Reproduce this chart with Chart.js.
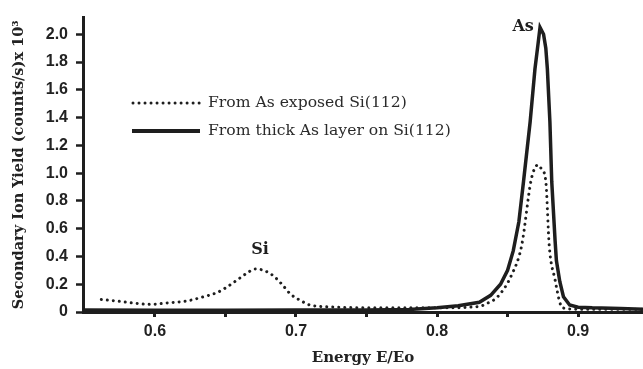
<!DOCTYPE html>
<html>
<head>
<meta charset="utf-8">
<script src="https://cdn.jsdelivr.net/npm/chart.js@4.4.1/dist/chart.umd.min.js"></script>
<style>
  html, body { margin: 0; padding: 0; background: #fff; }
  #wrap { width: 643px; height: 369px; }
</style>
</head>
<body>
<div id="wrap"><canvas id="sims"></canvas></div>
<script>
// Data (Energy E/Eo vs yield x 10^3 counts/s)
const exposedE = [0.562, 0.5756, 0.585, 0.5968, 0.6086, 0.6228, 0.6346, 0.644, 0.6511, 0.6582, 0.6653, 0.6712,
  0.677, 0.684, 0.690, 0.696, 0.703, 0.710, 0.73, 0.75, 0.80, 0.83, 0.835, 0.843, 0.853, 0.860, 0.8665,
  0.869, 0.8717, 0.874, 0.8771, 0.8795, 0.8837, 0.887, 0.889, 0.90, 0.946];
const exposedY = [0.09, 0.076, 0.064, 0.055, 0.065, 0.08, 0.11, 0.14, 0.18, 0.23, 0.28, 0.31,
  0.30, 0.26, 0.20, 0.13, 0.084, 0.05, 0.035, 0.03, 0.03, 0.04, 0.06, 0.11, 0.27, 0.48, 0.94,
  1.03, 1.06, 1.03, 0.94, 0.48, 0.23, 0.07, 0.03, 0.02, 0.02];

const thickE = [0.549, 0.6, 0.65, 0.7, 0.75, 0.78, 0.80, 0.815, 0.83, 0.838, 0.845, 0.850, 0.854, 0.858,
  0.8613, 0.866, 0.8694, 0.8717, 0.873, 0.8755, 0.8771, 0.8782, 0.880, 0.8813, 0.8837, 0.8846, 0.887,
  0.8896, 0.894, 0.90, 0.91, 0.93, 0.946];
const thickY = [0.015, 0.012, 0.012, 0.015, 0.015, 0.018, 0.03, 0.045, 0.07, 0.12, 0.20, 0.30, 0.44, 0.65,
  0.94, 1.37, 1.75, 1.94, 2.05, 2.0, 1.9, 1.75, 1.37, 0.94, 0.51, 0.37, 0.22,
  0.11, 0.05, 0.035, 0.03, 0.025, 0.02];

const xTicks = [0.6, 0.65, 0.7, 0.75, 0.8, 0.85, 0.9];
const xLabels = ['0.6', '', '0.7', '', '0.8', '', '0.9'];
const yTicks = [0, 0.2, 0.4, 0.6, 0.8, 1.0, 1.2, 1.4, 1.6, 1.8, 2.0];
const yLabels = ['0', '0.2', '0.4', '0.6', '0.8', '1.0', '1.2', '1.4', '1.6', '1.8', '2.0'];

const seriesNames = ['From As exposed Si(112)', 'From thick As layer on Si(112)'];
const peakNames = ['Si', 'As'];

const ink = '#1e1e1e';

function toPoints(xs, ys) {
  return xs.map((x, i) => ({ x: x, y: ys[i] }));
}

// legend + peak labels drawn on top
const overlay = {
  id: 'overlay',
  afterDraw(chart) {
    const ctx = chart.ctx;
    const xs = chart.scales.x, ys = chart.scales.y;
    ctx.save();
    ctx.strokeStyle = ink;
    ctx.fillStyle = ink;
    // legend samples
    ctx.lineCap = 'round';
    ctx.lineWidth = 3;
    ctx.setLineDash([0.01, 6]);
    ctx.beginPath(); ctx.moveTo(133, 103); ctx.lineTo(200, 103); ctx.stroke();
    ctx.setLineDash([]);
    ctx.lineCap = 'butt';
    ctx.lineWidth = 4;
    ctx.beginPath(); ctx.moveTo(132, 131); ctx.lineTo(200, 131); ctx.stroke();
    ctx.fillStyle = '#2a2a2a';
    ctx.font = '15.6px "DejaVu Serif"';
    ctx.textBaseline = 'middle';
    ctx.textAlign = 'left';
    ctx.fillText(seriesNames[0], 208, 103);
    ctx.fillText(seriesNames[1], 208, 131);
    // peak labels
    ctx.fillStyle = ink;
    ctx.font = 'bold 16px "DejaVu Serif"';
    ctx.textAlign = 'center';
    ctx.textBaseline = 'alphabetic';
    ctx.fillText(peakNames[0], xs.getPixelForValue(0.6745), ys.getPixelForValue(0.31) - 15);
    ctx.fillText(peakNames[1], xs.getPixelForValue(0.861), ys.getPixelForValue(2.05) + 4);
    ctx.restore();
  }
};

new Chart(document.getElementById('sims'), {
  type: 'line',
  data: {
    datasets: [
      {
        label: seriesNames[0],
        data: toPoints(exposedE, exposedY),
        borderColor: ink,
        borderWidth: 3,
        borderDash: [0.01, 6],
        borderCapStyle: 'round',
        pointRadius: 0,
        cubicInterpolationMode: 'monotone'
      },
      {
        label: seriesNames[1],
        data: toPoints(thickE, thickY),
        borderColor: ink,
        borderWidth: 3.5,
        pointRadius: 0,
        tension: 0
      }
    ]
  },
  options: {
    responsive: true,
    maintainAspectRatio: false,
    animation: false,
    layout: { padding: { top: 15, right: 0, left: 0, bottom: 0 } },
    plugins: { legend: { display: false }, tooltip: { enabled: false } },
    scales: {
      x: {
        type: 'linear',
        min: 0.549,
        max: 0.946,
        afterBuildTicks: (s) => { s.ticks = xTicks.map(v => ({ value: v })); },
        afterFit: (s) => { s.height = 57; },
        grid: { drawOnChartArea: false, tickLength: 5, tickWidth: 3, tickColor: ink },
        border: { color: ink, width: 3 },
        ticks: {
          color: '#222',
          font: { family: '"Liberation Sans", Arial', size: 16, weight: 'bold' },
          padding: 5,
          maxRotation: 0,
          autoSkip: false,
          callback: (v, i) => xLabels[i]
        },
        title: {
          display: true,
          text: 'Energy E/Eo',
          color: '#222',
          font: { family: '"DejaVu Serif"', size: 15, weight: 'bold' },
          padding: { top: 0, bottom: 2 }
        }
      },
      y: {
        min: 0,
        max: 2.12,
        afterBuildTicks: (s) => { s.ticks = yTicks.map(v => ({ value: v })); },
        afterFit: (s) => { s.width = 83; },
        grid: { drawOnChartArea: false, tickLength: 7, tickWidth: 2.5, tickColor: ink },
        border: { color: ink, width: 3 },
        ticks: {
          color: '#222',
          font: { family: '"Liberation Sans", Arial', size: 16, weight: 'bold' },
          padding: 8,
          autoSkip: false,
          callback: (v, i) => yLabels[i]
        },
        title: {
          display: true,
          text: 'Secondary Ion Yield (counts/s)x 10\u00b3',
          color: '#222',
          font: { family: '"DejaVu Serif"', size: 14.5, weight: 'bold' },
          padding: { top: 11, bottom: 0 }
        }
      }
    }
  },
  plugins: [overlay]
});
</script>
</body>
</html>
